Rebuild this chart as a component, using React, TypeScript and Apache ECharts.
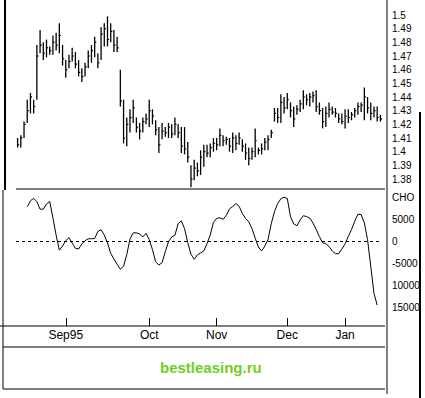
import React, { useEffect, useRef } from "react";
import * as echarts from "echarts";

// ---- Data ----
const highs = [
  1.410, 1.412, 1.422, 1.438, 1.443, 1.438, 1.478, 1.489, 1.480, 1.482,
  1.477, 1.485, 1.487, 1.494, 1.478, 1.467, 1.471, 1.476, 1.473, 1.467,
  1.461, 1.465, 1.474, 1.478, 1.484, 1.472, 1.491, 1.494, 1.499, 1.494,
  1.489, 1.484, 1.460, 1.438, 1.425, 1.431, 1.438, 1.425, 1.421, 1.425,
  1.428, 1.438, 1.431, 1.423, 1.418, 1.421, 1.418, 1.421, 1.420, 1.425,
  1.420, 1.418, 1.418, 1.407, 1.390, 1.394, 1.392, 1.401, 1.405, 1.405,
  1.406, 1.410, 1.410, 1.417, 1.412, 1.411, 1.410, 1.414, 1.412, 1.414,
  1.409, 1.406, 1.403, 1.403, 1.417, 1.403, 1.406, 1.410, 1.412, 1.416,
  1.432, 1.432, 1.442, 1.440, 1.443, 1.436, 1.433, 1.434, 1.438, 1.445,
  1.442, 1.443, 1.444, 1.445, 1.436, 1.432, 1.433, 1.436, 1.433, 1.432,
  1.428, 1.428, 1.431, 1.431, 1.429, 1.432, 1.436, 1.436, 1.447, 1.440,
  1.436, 1.433, 1.433, 1.427,
];
const lows = [
  1.403, 1.403, 1.410, 1.421, 1.428, 1.428, 1.438, 1.472, 1.467, 1.469,
  1.471, 1.471, 1.474, 1.472, 1.463, 1.454, 1.461, 1.466, 1.461, 1.455,
  1.451, 1.455, 1.461, 1.465, 1.469, 1.461, 1.467, 1.477, 1.477, 1.480,
  1.473, 1.473, 1.433, 1.406, 1.404, 1.414, 1.421, 1.414, 1.409, 1.414,
  1.420, 1.418, 1.420, 1.412, 1.399, 1.409, 1.411, 1.410, 1.410, 1.412,
  1.410, 1.399, 1.398, 1.392, 1.374, 1.379, 1.382, 1.383, 1.389, 1.396,
  1.396, 1.400, 1.401, 1.404, 1.404, 1.405, 1.400, 1.399, 1.401, 1.405,
  1.400, 1.394, 1.390, 1.394, 1.396, 1.398, 1.398, 1.401, 1.401, 1.410,
  1.422, 1.421, 1.421, 1.428, 1.431, 1.425, 1.418, 1.427, 1.429, 1.431,
  1.434, 1.433, 1.436, 1.429, 1.427, 1.417, 1.418, 1.425, 1.427, 1.425,
  1.421, 1.420, 1.417, 1.421, 1.423, 1.425, 1.427, 1.429, 1.423, 1.428,
  1.423, 1.425, 1.422, 1.422,
];
const closes = [
  1.405, 1.410, 1.420, 1.430, 1.440, 1.433, 1.470, 1.478, 1.472, 1.476,
  1.474, 1.480, 1.478, 1.485, 1.468, 1.460, 1.466, 1.470, 1.464, 1.458,
  1.455, 1.462, 1.470, 1.474, 1.480, 1.465, 1.486, 1.490, 1.482, 1.488,
  1.478, 1.476, 1.437, 1.410, 1.420, 1.425, 1.432, 1.418, 1.415, 1.422,
  1.424, 1.430, 1.426, 1.416, 1.405, 1.415, 1.414, 1.418, 1.413, 1.420,
  1.414, 1.404, 1.402, 1.396, 1.380, 1.388, 1.386, 1.396, 1.400, 1.399,
  1.403, 1.406, 1.405, 1.412, 1.408, 1.409, 1.404, 1.410, 1.406, 1.410,
  1.404, 1.399, 1.395, 1.400, 1.408, 1.401, 1.402, 1.407, 1.409, 1.414,
  1.428, 1.425, 1.436, 1.432, 1.438, 1.430, 1.424, 1.431, 1.435, 1.440,
  1.438, 1.440, 1.441, 1.433, 1.430, 1.422, 1.428, 1.431, 1.429, 1.428,
  1.424, 1.422, 1.426, 1.425, 1.427, 1.430, 1.433, 1.434, 1.440, 1.432,
  1.428, 1.430, 1.425, 1.424,
];
const cho = [
  null, null, null, 7800, 9150, 9690, 8940, 7220, 7240, 8400,
  8990, 5270, 1320, -2090, -1160, 70, 750, -480, -1660, -1820,
  -660, 70, 500, 520, 540, 2160, 2570, 1340, -450, -2810,
  -4090, -5290, -6420, -5740, -3110, 450, 1840, 1860, 1590, 930,
  1730, 320, -1950, -4720, -5470, -4900, -2450, -140, 930, 1290,
  3930, 4590, 2790, -360, -3020, -4150, -3160, -2700, -2250, -610,
  1380, 4240, 5130, 5270, 4930, 5830, 7310, 7850, 8510, 7880,
  6290, 5110, 4380, 2810, 660, -1380, -2270, -1160, 320, 3900,
  6650, 8510, 9600, 9940, 9670, 5490, 3880, 3470, 4770, 5740,
  5560, 5220, 4090, 2610, 1000, -430, -590, -1250, -2270, -2860,
  -2910, -1840, -660, 1040, 2590, 4490, 6080, 5990, 4110, 300,
  -5770, -11920, -14570, null,
];
const monthStarts = [15, 41, 62, 84, 102];
const monthLabels = ["Sep95", "Oct", "Nov", "Dec", "Jan"];
const choTickLabels: Record<string, string> = {
  "10000": "CHO",
  "5000": "5000",
  "0": "0",
  "-5000": "-5000",
  "-10000": "10000",
  "-15000": "15000",
};
const watermark = "bestleasing.ru";

const FONT = "'Liberation Sans', Arial, sans-serif";

export default function App() {
  const ref = useRef<HTMLDivElement>(null);
  useEffect(() => {
    if (!ref.current) return;
    const chart = echarts.init(ref.current, undefined, { renderer: "svg" });
    const categories = highs.map((_, i) => String(i));
    const ohlc = highs.map((h, i) => [i, h, lows[i], closes[i]]);
    const black = "#000";
    const ln = (x1: number, y1: number, x2: number, y2: number, w = 1) => ({
      type: "line",
      shape: { x1, y1, x2, y2 },
      style: { stroke: black, lineWidth: w },
      silent: true,
    });
    chart.setOption({
      animation: false,
      backgroundColor: "#fff",
      grid: [
        { left: 16, right: 43, top: 15, height: 164 },
        { left: 16, right: 43, top: 197, height: 110 },
      ],
      xAxis: [
        {
          type: "category",
          gridIndex: 0,
          data: categories,
          boundaryGap: true,
          axisLine: { show: false, onZero: false },
          axisTick: { show: false },
          axisLabel: { show: false },
          splitLine: { show: false },
        },
        {
          type: "category",
          gridIndex: 1,
          data: categories,
          boundaryGap: true,
          position: "bottom",
          offset: 19,
          axisLine: { show: false, onZero: false },
          axisTick: {
            show: true,
            inside: true,
            length: 8,
            alignWithLabel: true,
            interval: (idx: number) => monthStarts.includes(idx),
            lineStyle: { color: black, width: 1 },
          },
          axisLabel: {
            interval: (idx: number) => monthStarts.includes(idx),
            formatter: (_v: string, idx: number) => {
              const k = monthStarts.indexOf(idx);
              return k >= 0 ? monthLabels[k] : "";
            },
            color: black,
            fontSize: 12,
            fontFamily: FONT,
            margin: 3,
          },
          splitLine: { show: false },
        },
      ],
      yAxis: [
        {
          type: "value",
          gridIndex: 0,
          position: "right",
          offset: 6,
          min: 1.38,
          max: 1.5,
          interval: 0.01,
          axisLine: { show: false },
          axisTick: { show: false },
          splitLine: { show: false },
          axisLabel: {
            color: black,
            fontSize: 10,
            fontFamily: FONT,
            margin: 4,
            formatter: (v: number) => String(Math.round(v * 100) / 100),
          },
        },
        {
          type: "value",
          gridIndex: 1,
          position: "right",
          offset: 6,
          min: -15000,
          max: 10000,
          interval: 5000,
          axisLine: { show: false },
          axisTick: { show: false },
          splitLine: { show: false },
          axisLabel: {
            color: black,
            fontSize: 10,
            fontFamily: FONT,
            margin: 4,
            formatter: (v: number) => choTickLabels[String(Math.round(v))] ?? String(v),
          },
        },
      ],
      series: [
        {
          type: "custom",
          xAxisIndex: 0,
          yAxisIndex: 0,
          data: ohlc,
          encode: { x: 0, y: [1, 2, 3] },
          clip: false,
          renderItem: (_params: any, api: any) => {
            const idx = api.value(0);
            const top = api.coord([idx, api.value(1)]);
            const bot = api.coord([idx, api.value(2)]);
            const cl = api.coord([idx, api.value(3)]);
            return {
              type: "group",
              children: [
                {
                  type: "line",
                  shape: { x1: top[0], y1: top[1], x2: bot[0], y2: bot[1] },
                  style: { stroke: black, lineWidth: 1.3 },
                },
                {
                  type: "line",
                  shape: { x1: cl[0], y1: cl[1], x2: cl[0] + 1.6, y2: cl[1] },
                  style: { stroke: black, lineWidth: 1.2 },
                },
              ],
            };
          },
        },
        {
          type: "line",
          xAxisIndex: 1,
          yAxisIndex: 1,
          data: cho,
          showSymbol: false,
          clip: false,
          connectNulls: false,
          lineStyle: { color: black, width: 1 },
          markLine: {
            silent: true,
            symbol: "none",
            label: { show: false },
            lineStyle: { color: black, type: [3, 3], width: 1 },
            data: [{ yAxis: 0 }],
          },
        },
      ],
      graphic: [
        ln(16, 189, 385, 189),
        ln(0, 326, 385, 326),
        ln(3, 347, 385, 347),
        ln(3, 389, 385, 389),
        ln(5, 0, 5, 190, 2),
        ln(3, 190, 3, 389),
        ln(387, 0, 387, 394),
        ln(420, 112, 420, 398, 2),
        {
          type: "text",
          left: 160,
          top: 360,
          style: {
            text: watermark,
            fill: "#6fcf1f",
            font: `bold 15px ${FONT}`,
          },
          silent: true,
        },
      ],
    });
    return () => chart.dispose();
  }, []);
  return (
    <div
      ref={ref}
      style={{ position: "fixed", left: 0, top: 0, width: 425, height: 398, background: "#fff" }}
    />
  );
}
